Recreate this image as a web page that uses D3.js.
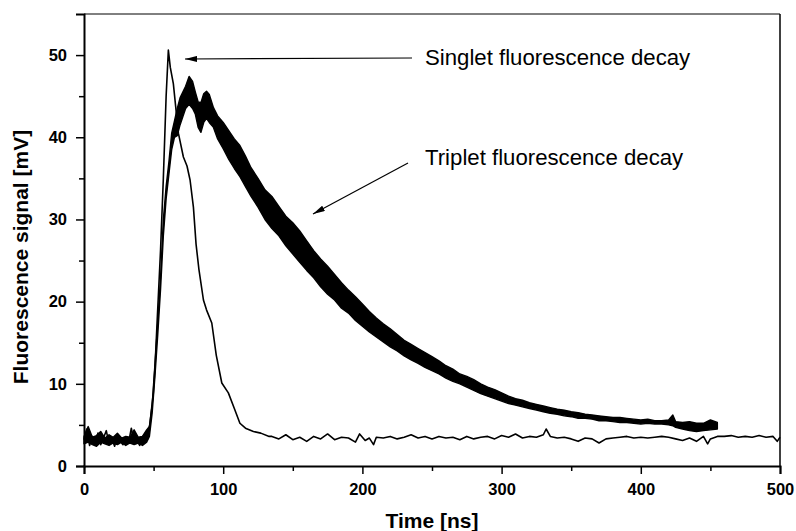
<!DOCTYPE html>
<html>
<head>
<meta charset="utf-8">
<script src="https://cdn.jsdelivr.net/npm/d3@7"></script>
<style>
  html, body { margin: 0; padding: 0; background: #fff; }
  svg { display: block; font-family: "Liberation Sans", Arial, sans-serif; }
</style>
</head>
<body>
<svg id="chart" width="796" height="531"></svg>
<script>
// ---------- data ----------
const xTicks = [0, 100, 200, 300, 400, 500];
const xMinorTicks = [50, 150, 250, 350, 450];
const yTicks = [0, 10, 20, 30, 40, 50];
const yMinorTicks = [5, 15, 25, 35, 45];

const singletTime = [0,2,4,6,8,10,12,14,16,18,20,22,24,26,28,30,32,34,36,38,40,42,44,45.5,47.4,49.8,51,52.7,55,57,59,60.6,62,64.2,67.8,71.4,74,76.2,78.6,80.5,82.5,85.8,88,91.8,95,99,103.7,108,112,116,121.7,127,133,
  135,140,145,150,155,160,165,170,175,180,185,190,195,198,202,205,208,210,215,220,225,230,235,240,245,250,255,260,265,270,275,280,285,290,295,300,305,310,315,320,325,330,332,335,340,345,350,355,360,365,370,375,380,385,390,395,400,405,410,415,420,425,430,435,440,445,448,450,455,460,465,470,475,480,485,490,495,498,500];
const singletValue = [3.2,4.5,2.5,3.6,2.8,4.0,2.6,3.4,4.3,2.7,3.3,2.4,3.8,3.0,2.6,3.5,2.8,4.6,2.9,3.1,2.5,3.6,3.0,3.2,5.2,8.9,12,18.2,26.3,35,45,50.6,48.5,46.5,40.5,37.6,36.5,34.8,31.5,27,24,20.2,19,17.4,13.5,10.1,8.9,7,5.2,4.6,4.2,4.0,3.6,
  3.6,3.3,3.8,3.2,3.5,3.0,3.6,3.3,3.9,3.2,3.5,3.4,2.9,3.9,3.1,3.4,2.6,3.5,3.4,3.6,3.3,3.5,3.8,3.4,3.6,3.3,3.6,3.4,3.5,3.2,3.6,3.3,3.5,3.6,3.3,3.7,3.5,3.9,3.4,3.6,3.5,3.8,4.5,3.6,3.4,3.5,3.3,3.0,3.4,3.3,2.8,3.3,3.4,3.5,3.6,3.4,3.5,3.4,3.5,3.6,3.5,3.3,3.1,3.4,3.0,3.6,2.7,3.3,3.6,3.6,3.7,3.5,3.6,3.5,3.7,3.5,3.6,3.0,3.5];

const tripletTime = [0,3,6,9,12,15,18,21,24,27,30,33,36,39,42,45,47,49,51,53,55,57,59,61,63,65,67,69,71,73,75.5,78,80,82,84,86,88,90,93,96,100,104,108,112,116,120,125,130,135,140,145,150,155,160,165,170,175,180,185,190,195,200,205,210,215,220,225,230,235,240,245,250,255,260,265,270,275,280,285,290,295,300,305,310,315,320,325,330,335,340,345,350,355,360,365,370,375,380,385,390,395,400,405,410,415,420,423,425,430,435,440,445,450,455];
const tripletLow = [2.7,2.9,2.6,2.4,2.9,2.7,2.5,2.8,2.6,2.9,2.5,2.8,2.6,2.8,2.5,2.9,3.6,6.5,11,16,21.5,28,32.5,35.5,38.5,40,40.2,41.5,42.5,43.5,44,43.5,42.8,41.2,40.6,41.8,42.3,41.8,41.2,39.8,38.6,37.3,36.2,35.2,34.0,32.8,31.5,30.0,28.9,28.0,26.8,25.8,24.8,23.8,22.9,21.8,20.9,20.2,19.2,18.6,17.7,17.0,16.3,15.7,15.1,14.5,14.0,13.4,12.9,12.5,12.0,11.6,11.2,10.7,10.3,10.0,9.6,9.2,8.8,8.5,8.2,7.9,7.6,7.4,7.2,7.0,6.8,6.6,6.4,6.3,6.1,6.0,5.8,5.8,5.7,5.5,5.5,5.4,5.3,5.3,5.2,5.1,5.2,5.1,5.1,5.0,4.9,4.7,4.5,4.3,4.2,4.3,4.4,4.5];
const tripletHigh = [3.6,4.8,3.5,3.7,4.2,3.4,3.8,3.5,4.0,3.4,3.6,3.5,4.4,3.5,3.6,4.4,4.8,7.5,12.5,17.5,23,30,34,37,40.5,42,43.5,44.8,45.5,46.2,47.4,46.8,45.5,44.3,44.2,45.3,45.6,45.2,43.6,42.6,41.8,40.8,39.8,39.0,37.7,36.3,35.0,33.6,32.8,31.6,30.4,29.6,28.6,27.4,26.2,25.2,24.3,23.3,22.3,21.4,20.6,19.7,18.8,18.0,17.3,16.7,16.0,15.3,14.8,14.3,13.8,13.3,12.8,12.2,11.8,11.2,10.9,10.5,10.0,9.6,9.3,8.9,8.5,8.2,8.0,7.7,7.5,7.3,7.1,6.9,6.8,6.6,6.5,6.3,6.2,6.1,6.0,5.9,5.9,5.8,5.7,5.6,5.7,5.5,5.5,5.6,6.2,5.4,5.3,5.4,5.2,5.2,5.6,5.3];

const annotations = [
  { text: "Singlet fluorescence decay", tx: 425, ty: 65, from: [412, 58], to: [185, 59] },
  { text: "Triplet fluorescence decay", tx: 425, ty: 165, from: [408, 163], to: [313, 214] }
];

// ---------- layout ----------
const svg = d3.select("#chart");
const plotLeft = 84, plotRight = 780, plotTop = 14, plotBottom = 466;

const x = d3.scaleLinear().domain([0, 500]).range([plotLeft, plotRight]);
const y = d3.scaleLinear().domain([0, 55]).range([plotBottom, plotTop]);

// frame (top and right)
svg.append("line").attr("x1", plotLeft).attr("x2", plotRight).attr("y1", plotTop).attr("y2", plotTop)
  .attr("stroke", "#000").attr("stroke-width", 1);
svg.append("line").attr("x1", plotRight).attr("x2", plotRight).attr("y1", plotTop).attr("y2", plotBottom)
  .attr("stroke", "#000").attr("stroke-width", 1.5);

// triplet band
const tripletData = tripletTime.map((t, i) => ({ t, lo: tripletLow[i], hi: tripletHigh[i] }));
const area = d3.area().x(d => x(d.t)).y0(d => y(d.lo)).y1(d => y(d.hi)).curve(d3.curveLinear);
svg.append("path").datum(tripletData).attr("d", area)
  .attr("fill", "#000").attr("stroke", "#000").attr("stroke-width", 1.4).attr("stroke-linejoin", "round");

// singlet line
const singletData = singletTime.map((t, i) => ({ t, v: singletValue[i] }));
const line = d3.line().x(d => x(d.t)).y(d => y(d.v));
svg.append("path").datum(singletData).attr("d", line)
  .attr("fill", "none").attr("stroke", "#000").attr("stroke-width", 1.6).attr("stroke-linejoin", "round");

// axes
const fontTick = "16.5px";
svg.append("g").attr("transform", `translate(0,${plotBottom})`)
  .call(d3.axisBottom(x).tickValues(xTicks).tickSize(8).tickPadding(9).tickFormat(d3.format("d")));
svg.append("g").attr("transform", `translate(0,${plotBottom})`)
  .call(d3.axisBottom(x).tickValues(xMinorTicks).tickSize(5).tickFormat(""))
  .call(g => g.select(".domain").remove());
svg.append("g").attr("transform", `translate(${plotLeft},0)`)
  .call(d3.axisLeft(y).tickValues(yTicks).tickSize(8).tickPadding(9).tickFormat(d3.format("d")));
svg.append("g").attr("transform", `translate(${plotLeft},0)`)
  .call(d3.axisLeft(y).tickValues(yMinorTicks).tickSize(5).tickFormat(""))
  .call(g => g.select(".domain").remove());

svg.selectAll(".domain").attr("stroke", "#000").attr("stroke-width", 2);
svg.selectAll(".tick line").attr("stroke", "#000").attr("stroke-width", 1.5);
svg.selectAll(".tick text").attr("font-family", "Liberation Sans, Arial, sans-serif")
  .attr("font-size", fontTick).attr("font-weight", "bold").attr("fill", "#000");

// axis titles
svg.append("text").attr("x", 432).attr("y", 528).attr("text-anchor", "middle")
  .attr("font-size", "21px").attr("font-weight", "bold").text("Time [ns]");
svg.append("text").attr("transform", "translate(28,257) rotate(-90)").attr("text-anchor", "middle")
  .attr("font-size", "21px").attr("font-weight", "bold").text("Fluorescence signal [mV]");

// annotations with arrows
const defs = svg.append("defs");
defs.append("marker").attr("id", "arrow").attr("viewBox", "0 0 12 6")
  .attr("refX", 12).attr("refY", 3).attr("markerWidth", 12).attr("markerHeight", 6)
  .attr("markerUnits", "userSpaceOnUse").attr("orient", "auto")
  .append("path").attr("d", "M0,0 L12,3 L0,6 Z").attr("fill", "#000");

annotations.forEach(a => {
  svg.append("line").attr("x1", a.from[0]).attr("y1", a.from[1]).attr("x2", a.to[0]).attr("y2", a.to[1])
    .attr("stroke", "#000").attr("stroke-width", 1.2).attr("marker-end", "url(#arrow)");
  svg.append("text").attr("x", a.tx).attr("y", a.ty).attr("font-size", "22.2px").attr("fill", "#000").text(a.text);
});
</script>
</body>
</html>
